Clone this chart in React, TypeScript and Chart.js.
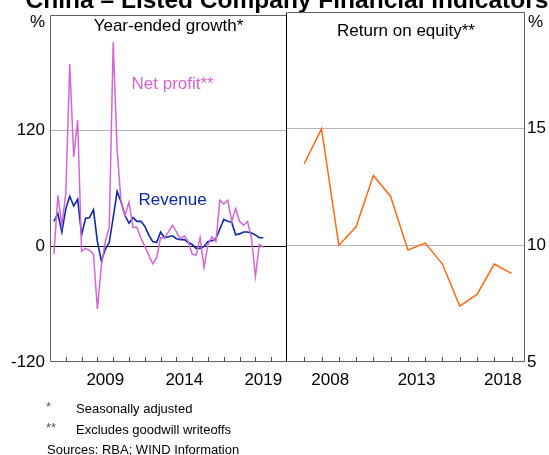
import React, { useEffect, useRef } from "react";
import { Chart, registerables } from "chart.js";

Chart.register(...registerables);

const FONT = '"Liberation Sans", Arial, Helvetica, sans-serif';
const PINK = "#d466d4";
const BLUE = "#0a28a6";
const ORANGE = "#ff6a14";

// ---------- Data ----------
// Year-ended growth, quarterly, 2006 Q1 ... 2019 Q2 (per cent)
const growthFirstYear = 2006;
const growthFirstQuarter = 1;
const revenueGrowth = [
  26, 34, 15, 39, 52, 42, 49, 12, 29, 30, 38, 5, -15, -3, 4, 30,
  57, 46, 32, 24, 30, 26, 26, 21, 12, 5, 4, 15, 9, 10, 11, 8,
  7, 7, 4, 2, -2, -2, 0, 5, 6, 8, 18, 28, 26, 25, 12, 13,
  15, 15, 14, 12, 9, 9,
];
const netProfitGrowth = [
  -8, 53, 22, 55, 189, 93, 131, -5, -2, -4, -8, -65, -20, 5, 20, 212,
  100, 45, 32, 46, 20, 20, 9, 0, -9, -18, -12, 9, 9, 15, 22, 15,
  8, 11, 5, -8, -9, 9, -22, 2, 10, 5, 48, 44, 48, 26, 39, 26,
  22, 26, 9, -31, 2, -1,
];

// Return on equity, annual (per cent)
const roeYears = [2006, 2007, 2008, 2009, 2010, 2011, 2012, 2013, 2014, 2015, 2016, 2017, 2018];
const returnOnEquity = [13.5, 15.0, 10.0, 10.8, 13.0, 12.1, 9.8, 10.1, 9.2, 7.4, 7.9, 9.2, 8.8];

// Axes
const leftYearRange = [2006, 2021];
const rightYearRange = [2006, 2019.78];
const leftYearLabels = [2009, 2014, 2019];
const rightYearLabels = [2008, 2013, 2018];
const leftAxisTicks = [-120, 0, 120, 240];
const rightAxisTicks = [5, 10, 15, 20];

const footnotes = [
  ["*", "Seasonally adjusted"],
  ["**", "Excludes goodwill writeoffs"],
];
const sourceNote = "Sources: RBA; WIND Information";
const mainTitle = "China \u2013 Listed Company Financial Indicators";

// ---------- Layout (pixels) ----------
const W = 549;
const H = 455;
const PLOT_LEFT = 50;
const DIVIDER = 287;
const PLOT_RIGHT = 525;
const PLOT_TOP = 12;
const PLOT_BOTTOM = 362;

const quarterEnd = (i: number) =>
  growthFirstYear + (growthFirstQuarter + i) / 4;

type Label = { text: string; x: number; y: number; color: string };

function makeDecor(cfg: {
  side: "left" | "right";
  title: string;
  titleBaseline: number;
  labels: Label[];
  drawPageText: boolean;
}) {
  return {
    id: "decor" + cfg.side,
    afterDraw(chart: any) {
      const { ctx, chartArea: a } = chart;
      const xs = chart.scales.x;
      const ys = chart.scales.y;
      ctx.save();
      // inward ticks on the x axis
      ctx.strokeStyle = "#4a4a4a";
      ctx.lineWidth = 1;
      for (let yr = Math.floor(xs.min) + 1; yr < xs.max - 0.01; yr++) {
        const px = Math.round(xs.getPixelForValue(yr)) + 0.5;
        ctx.beginPath();
        ctx.moveTo(px, a.bottom);
        ctx.lineTo(px, a.bottom - 5);
        ctx.stroke();
      }
      // frame
      const l = Math.floor(a.left) + 0.5;
      const r = Math.ceil(a.right) - 0.5;
      const t = Math.floor(a.top) + 0.5;
      const b = Math.ceil(a.bottom) - 0.5;
      ctx.strokeStyle = "#606060";
      ctx.beginPath();
      ctx.moveTo(l, t);
      ctx.lineTo(r, t);
      ctx.moveTo(l, b);
      ctx.lineTo(r, b);
      if (cfg.side === "left") {
        ctx.moveTo(l, t);
        ctx.lineTo(l, b);
      } else {
        ctx.moveTo(r, t);
        ctx.lineTo(r, b);
      }
      ctx.stroke();
      // divider
      ctx.strokeStyle = "#000";
      ctx.beginPath();
      ctx.moveTo(DIVIDER - 0.5, t);
      ctx.lineTo(DIVIDER - 0.5, b);
      ctx.stroke();

      // panel title
      ctx.fillStyle = "#000";
      ctx.font = `17px ${FONT}`;
      ctx.textAlign = "center";
      ctx.textBaseline = "alphabetic";
      ctx.fillText(cfg.title, (a.left + a.right) / 2, cfg.titleBaseline);

      // unit label
      if (cfg.side === "left") {
        ctx.textAlign = "right";
        ctx.fillText("%", a.left - 5, 26.5);
      } else {
        ctx.textAlign = "left";
        ctx.fillText("%", a.right + 3, 26.5);
      }

      // series labels
      ctx.textAlign = "center";
      ctx.textBaseline = "middle";
      for (const lb of cfg.labels) {
        ctx.fillStyle = lb.color;
        ctx.fillText(lb.text, xs.getPixelForValue(lb.x), ys.getPixelForValue(lb.y));
      }

      if (cfg.drawPageText) {
        ctx.fillStyle = "#000";
        ctx.textBaseline = "alphabetic";
        ctx.textAlign = "center";
        ctx.font = `bold 24.5px ${FONT}`;
        ctx.fillText(mainTitle, DIVIDER, 8);
        ctx.textAlign = "left";
        ctx.font = `13px ${FONT}`;
        footnotes.forEach((fn, i) => {
          const by = 412.5 + i * 21;
          ctx.fillStyle = "#555";
          ctx.fillText(fn[0], 46, by - 2);
          ctx.fillStyle = "#000";
          ctx.fillText(fn[1], 76, by);
        });
        ctx.fillText(sourceNote, 47, 454);
      }
      ctx.restore();
    },
  };
}

function baseOptions(opts: {
  padding: any;
  xRange: number[];
  xLabels: number[];
  yTicks: number[];
  yPosition: "left" | "right";
  yWidth: number;
  yPad: number;
  gridColor: (v: number) => string;
  labelOffset: number;
}) {
  const yMin = opts.yTicks[0];
  const yMax = opts.yTicks[opts.yTicks.length - 1];
  return {
    animation: false,
    responsive: false,
    devicePixelRatio: 1,
    layout: { padding: opts.padding },
    plugins: {
      legend: { display: false },
      tooltip: { enabled: false },
      title: { display: false },
    },
    elements: { point: { radius: 0 }, line: { tension: 0 } },
    scales: {
      x: {
        type: "linear",
        min: opts.xRange[0],
        max: opts.xRange[1],
        grid: { display: false, drawTicks: false },
        border: { display: false },
        ticks: {
          stepSize: 1,
          autoSkip: false,
          maxRotation: 0,
          minRotation: 0,
          padding: 8,
          labelOffset: opts.labelOffset,
          color: "#000",
          font: { family: FONT, size: 17 },
          callback: (v: any) => (opts.xLabels.includes(v) ? String(v) : ""),
        },
        afterFit: (s: any) => {
          s.height = H - PLOT_BOTTOM;
        },
      },
      y: {
        type: "linear",
        position: opts.yPosition,
        min: yMin,
        max: yMax,
        border: { display: false },
        grid: {
          drawTicks: false,
          lineWidth: 1,
          color: (c: any) => opts.gridColor(c.tick ? c.tick.value : NaN),
        },
        ticks: {
          stepSize: opts.yTicks[1] - opts.yTicks[0],
          padding: opts.yPad,
          color: "#000",
          font: { family: FONT, size: 17 },
          callback: (v: any) => (v === yMax ? "" : String(v)),
        },
        afterFit: (s: any) => {
          s.width = opts.yWidth;
        },
      },
    },
  };
}

export default function App() {
  const leftRef = useRef<HTMLCanvasElement>(null);
  const rightRef = useRef<HTMLCanvasElement>(null);

  useEffect(() => {
    const leftYears = leftYearRange[1] - leftYearRange[0];
    const rightYears = rightYearRange[1] - rightYearRange[0];
    const left = new Chart(leftRef.current!, {
      type: "line",
      data: {
        datasets: [
          {
            label: "Net profit**",
            data: netProfitGrowth.map((v, i) => ({ x: quarterEnd(i), y: v })),
            borderColor: PINK,
            borderWidth: 1.5,
            pointRadius: 0,
          },
          {
            label: "Revenue",
            data: revenueGrowth.map((v, i) => ({ x: quarterEnd(i), y: v })),
            borderColor: BLUE,
            borderWidth: 1.6,
            pointRadius: 0,
          },
        ],
      },
      options: baseOptions({
        padding: { left: 0, right: W - DIVIDER, top: PLOT_TOP, bottom: 0 },
        xRange: leftYearRange,
        xLabels: leftYearLabels,
        yTicks: leftAxisTicks,
        yPosition: "left",
        yWidth: PLOT_LEFT,
        yPad: 5,
        gridColor: (v) =>
          v === 0 ? "#000" : v === leftAxisTicks[0] || v === leftAxisTicks[3] ? "rgba(0,0,0,0)" : "#b4b4b4",
        labelOffset: (DIVIDER - PLOT_LEFT) / leftYears / 2,
      }) as any,
      plugins: [
        makeDecor({
          side: "left",
          title: "Year-ended growth*",
          titleBaseline: 31,
          labels: [
            { text: "Net profit**", x: 2013.76, y: 168.5, color: PINK },
            { text: "Revenue", x: 2013.76, y: 48, color: BLUE },
          ],
          drawPageText: true,
        }),
      ],
    });

    const right = new Chart(rightRef.current!, {
      type: "line",
      data: {
        datasets: [
          {
            label: "Return on equity**",
            data: returnOnEquity.map((v, i) => ({ x: roeYears[i] + 1, y: v })),
            borderColor: ORANGE,
            borderWidth: 1.5,
            pointRadius: 0,
          },
        ],
      },
      options: baseOptions({
        padding: { left: DIVIDER, right: 0, top: PLOT_TOP, bottom: 0 },
        xRange: rightYearRange,
        xLabels: rightYearLabels,
        yTicks: rightAxisTicks,
        yPosition: "right",
        yWidth: W - PLOT_RIGHT,
        yPad: 2,
        gridColor: (v) =>
          v === rightAxisTicks[0] || v === rightAxisTicks[3] ? "rgba(0,0,0,0)" : "#b4b4b4",
        labelOffset: (PLOT_RIGHT - DIVIDER) / rightYears / 2,
      }) as any,
      plugins: [
        makeDecor({
          side: "right",
          title: "Return on equity**",
          titleBaseline: 36,
          labels: [],
          drawPageText: false,
        }),
      ],
    });

    return () => {
      left.destroy();
      right.destroy();
    };
  }, []);

  const canvasStyle: React.CSSProperties = {
    position: "absolute",
    left: 0,
    top: 0,
    width: W,
    height: H,
  };

  return (
    <div
      style={{
        position: "absolute",
        left: 0,
        top: 0,
        width: W,
        height: H,
        background: "#fff",
      }}
    >
      <canvas ref={leftRef} width={W} height={H} style={canvasStyle} />
      <canvas ref={rightRef} width={W} height={H} style={canvasStyle} />
    </div>
  );
}
